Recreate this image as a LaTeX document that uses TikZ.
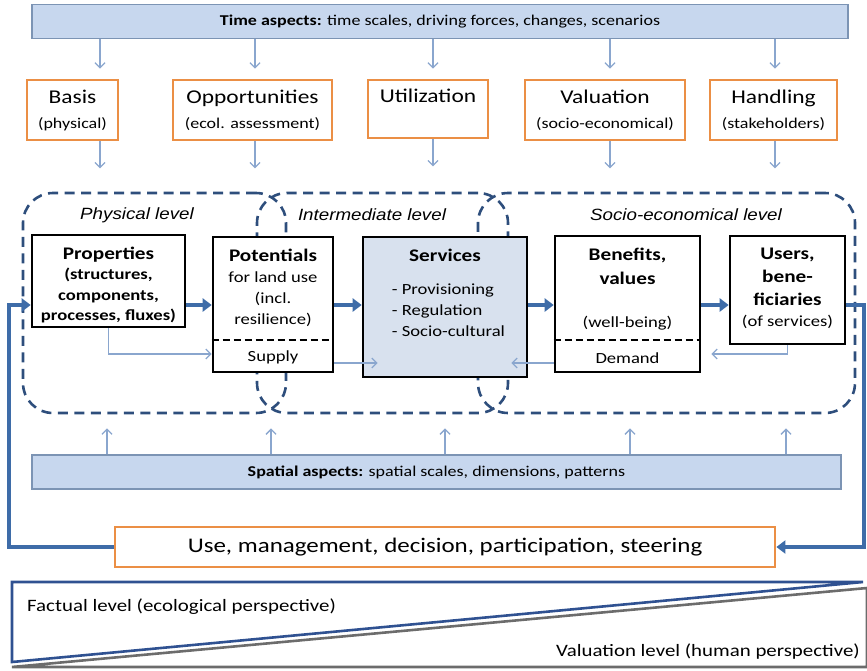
\documentclass[tikz,border=0pt]{standalone}
\usepackage{fontspec}
\setmainfont{Carlito}[FakeStretch=1.2]
\newfontfamily\arialfont{Liberation Sans}[FakeStretch=1.15]
\usetikzlibrary{arrows.meta,positioning}

\definecolor{barfill}{HTML}{C7D7EE}
\definecolor{barline}{HTML}{7C94B4}
\definecolor{servfill}{HTML}{D8E1EE}
\definecolor{orangeline}{HTML}{EB8F45}
\definecolor{zonecol}{HTML}{2E4E7C}
\definecolor{flowcol}{HTML}{3E6CA8}
\definecolor{feedcol}{HTML}{8AA6CE}
\definecolor{scalecol}{HTML}{2F5191}

\newcommand\titlefont{\fontsize{17.7}{22}\selectfont\bfseries}
\newcommand\topicfont{\fontsize{19.5}{24}\selectfont}

\tikzset{
  aspectbar/.style={draw=barline, fill=barfill, line width=1.2pt, inner sep=0pt, minimum height=34pt, font=\fontsize{15}{18}\selectfont},
  topicbox/.style={draw=orangeline, line width=2.8pt, fill=white, inner sep=0pt, align=center, minimum height=60pt, font=\fontsize{15}{25}\selectfont},
  zone/.style={draw=zonecol, dash pattern=on 10pt off 6.5pt, line width=2.6pt, rounded corners=30pt, inner sep=0pt, minimum height=220pt},
  zonelabel/.style={font=\arialfont\itshape\fontsize{16.3}{20}\selectfont, inner sep=0pt},
  levelbox/.style={draw=black, line width=2.6pt, fill=white, inner sep=0pt},
  boxtext/.style={align=center, inner sep=0pt, font=\fontsize{15.5}{21}\selectfont},
  cutline/.style={dash pattern=on 7pt off 4pt, line width=1.5pt},
  mainflow/.style={flowcol, line width=4pt, -{Triangle[length=9pt,width=13pt]}},
  feedback/.style={feedcol, line width=1.3pt, -{Straight Barb[length=5pt,width=10pt]}},
  scaleline/.style={scalecol, line width=2.6pt},
}

\begin{document}
\begin{tikzpicture}[x=1pt,y=-1pt]
\useasboundingbox (0,0) rectangle (867,670);

% aspects
\node[aspectbar, minimum width=816pt] (timebar) at (440,21.5) {\textbf{Time aspects:} time scales, driving forces, changes, scenarios};
\node[aspectbar, minimum width=809pt] (spacebar) at (436.5,472) {\textbf{Spatial aspects:} spatial scales, dimensions, patterns};

% topics
\node[topicbox, minimum width=91pt] (basis) at (72.5,110) {{\topicfont Basis}\\(physical)};
\node[topicbox, minimum width=159pt] (opp) at (252.5,110) {{\topicfont Opportunities}\\(ecol. assessment)};
\node[topicbox, minimum width=120pt, minimum height=58pt] (util) at (428,109) {{\topicfont Utilization}\\\phantom{(x)}};
\node[topicbox, minimum width=160pt] (valu) at (605,110) {{\topicfont Valuation}\\(socio-economical)};
\node[topicbox, minimum width=127pt] (hand) at (773.5,110) {{\topicfont Handling}\\(stakeholders)};

\foreach \t/\x in {basis/100,opp/255,util/433,valu/610,hand/775}{
  \coordinate (k\t) at (\x,0);
  \draw[feedback, shorten >=10pt] (timebar.south -| k\t) -- (\t.north -| k\t);
  \draw[feedback] (\t.south -| k\t) -- ++(0,27);
}

% levels
\node[zone, minimum width=263pt] (phys) at (154.5,303) {};
\node[zone, minimum width=251pt] (inter) at (382.5,303) {};
\node[zone, minimum width=377pt] (socio) at (666.5,303) {};
\node[zonelabel] (physlab) at (137,215) {Physical level};
\node[zonelabel] (interlab) at (372,215) {Intermediate level};
\node[zonelabel] (sociolab) at (686,215) {Socio-economical level};

% boxes
\node[levelbox, minimum width=153pt, minimum height=92pt] (prop) at (108.5,281) {};
\node[levelbox, minimum width=120pt, minimum height=135pt] (pot) at (273,304.5) {};
\node[levelbox, fill=servfill, minimum width=164pt, minimum height=140pt] (serv) at (445,307) {};
\node[levelbox, minimum width=145pt, minimum height=136pt] (ben) at (627.5,304) {};
\node[levelbox, minimum width=115pt, minimum height=108pt] (users) at (787.5,290) {};

\node[boxtext, font=\fontsize{15.5}{20.5}\selectfont\bfseries, below=13pt of prop.north] (propt) {{\titlefont Properties}\\(structures,\\components,\\processes, fluxes)};
\node[boxtext, below=13pt of pot.north] (pott) {{\titlefont Potentials}\\for land use\\(incl.\\resilience)};
\node[boxtext, above=9pt of pot.south] (supply) {Supply};
\node[boxtext, below=13pt of serv.north] (servt) {{\titlefont Services}};
\node[boxtext, align=left, anchor=north west] (servlist) at ([xshift=30pt,yshift=-48pt]serv.north west) {- Provisioning\\- Regulation\\- Socio-cultural};
\node[boxtext, below=13pt of ben.north] (bent) {{\titlefont Benefits,}\\[3pt]{\titlefont values}\\[22pt](well-being)};
\node[boxtext, above=9pt of ben.south] (demand) {Demand};
\node[boxtext, below=13pt of users.north] (userst) {{\titlefont Users,}\\[2pt]{\titlefont bene-}\\[2pt]{\titlefont ficiaries}\\(of services)};

\coordinate (cutrow) at (0,340);
\draw[cutline] (pot.west |- cutrow) -- (pot.east |- cutrow);
\draw[cutline] (ben.west |- cutrow) -- (ben.east |- cutrow);

% flows
\coordinate (flowrow) at (0,305);
\draw[mainflow] (prop.east |- flowrow) -- (pot.west |- flowrow);
\draw[mainflow] (pot.east |- flowrow) -- (serv.west |- flowrow);
\draw[mainflow] (serv.east |- flowrow) -- (ben.west |- flowrow);
\draw[mainflow] (ben.east |- flowrow) -- (users.west |- flowrow);

\coordinate (lowrow) at (0,354);
\coordinate (midrow) at (0,363);
\draw[feedback] (prop.south) |- (pot.west |- lowrow);
\draw[feedback, shorten >=10pt] (users.south) |- (ben.east |- lowrow);
\draw[feedback, shorten >=-16pt] (pot.east |- midrow) -- (serv.west |- midrow);
\draw[feedback, shorten >=-17pt] (ben.west |- midrow) -- (serv.east |- midrow);

\foreach \x [count=\i] in {107,271,445,630,786}{
  \coordinate (s\i) at (\x,0);
  \draw[feedback] (spacebar.north -| s\i) -- ++(0,-26);
}

% steering loop
\node[topicbox, minimum width=660pt, minimum height=40pt, font=\fontsize{20.8}{25}\selectfont] (use) at (445,547) {Use, management, decision, participation, steering};
\coordinate (lft) at (9,0);
\coordinate (rgt) at (864,0);
\draw[mainflow] (use.west) -| (lft |- flowrow) -- (prop.west |- flowrow);
\draw[mainflow] (users.east |- flowrow) -| (rgt |- use.east) -- (use.east);

% perspectives
\draw[scaleline] (12,582) -- (863,582) -- (12,662) -- cycle;
\draw[gray!85!black, line width=2.6pt] (12,667) -- (867,588) -- (867,667) -- cycle;
\node[anchor=west, inner sep=0pt, font=\fontsize{17.4}{20}\selectfont] (factual) at (27,607) {Factual level (ecological perspective)};
\node[anchor=east, inner sep=0pt, font=\fontsize{17.4}{20}\selectfont] (valuation) at (860,652) {Valuation level (human perspective)};
\end{tikzpicture}
\end{document}
